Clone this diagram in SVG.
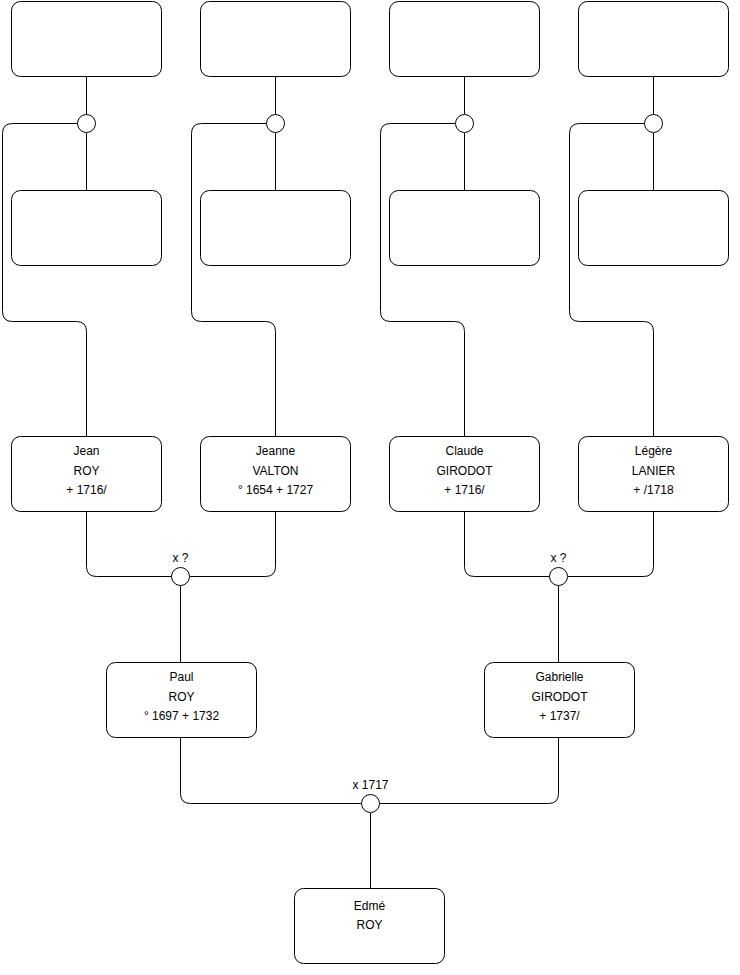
<svg xmlns="http://www.w3.org/2000/svg" width="740" height="975" viewBox="0 0 740 975">
<style>
.box{fill:#fff;stroke:#000;stroke-width:1}
.c{fill:#fff;stroke:#000;stroke-width:1}
.ln{fill:none;stroke:#000;stroke-width:1}
text{font-family:"Liberation Sans",Arial,sans-serif;font-size:12px;fill:#000;text-anchor:middle}
</style>
<rect width="740" height="975" fill="#fff"/>
<g id="connectors">
<path class="ln" d="M86.5 76V114"/>
<path class="ln" d="M86.5 133V190"/>
<path class="ln" d="M77.5 123.5H12.5Q2.5 123.5 2.5 133.5V311.5Q2.5 321.5 12.5 321.5H76.5Q86.5 321.5 86.5 331.5V436"/>
<path class="ln" d="M275.5 76V114"/>
<path class="ln" d="M275.5 133V190"/>
<path class="ln" d="M266.5 123.5H201.5Q191.5 123.5 191.5 133.5V311.5Q191.5 321.5 201.5 321.5H265.5Q275.5 321.5 275.5 331.5V436"/>
<path class="ln" d="M464.5 76V114"/>
<path class="ln" d="M464.5 133V190"/>
<path class="ln" d="M455.5 123.5H390.5Q380.5 123.5 380.5 133.5V311.5Q380.5 321.5 390.5 321.5H454.5Q464.5 321.5 464.5 331.5V436"/>
<path class="ln" d="M653.5 76V114"/>
<path class="ln" d="M653.5 133V190"/>
<path class="ln" d="M644.5 123.5H579.5Q569.5 123.5 569.5 133.5V311.5Q569.5 321.5 579.5 321.5H643.5Q653.5 321.5 653.5 331.5V436"/>
<path class="ln" d="M86.5 511V566.5Q86.5 576.5 96.5 576.5H172"/>
<path class="ln" d="M275.5 511V566.5Q275.5 576.5 265.5 576.5H190"/>
<path class="ln" d="M180.5 586V662"/>
<path class="ln" d="M464.5 511V566.5Q464.5 576.5 474.5 576.5H550"/>
<path class="ln" d="M653.5 511V566.5Q653.5 576.5 643.5 576.5H568"/>
<path class="ln" d="M558.5 586V662"/>
<path class="ln" d="M180.5 737V793.5Q180.5 803.5 190.5 803.5H361"/>
<path class="ln" d="M558.5 737V793.5Q558.5 803.5 548.5 803.5H380"/>
<path class="ln" d="M370.5 813V888"/>
</g>
<g id="u1"><rect class="box" x="11.5" y="1.5" width="150" height="75" rx="9"/></g>
<g id="u2"><rect class="box" x="200.5" y="1.5" width="150" height="75" rx="9"/></g>
<g id="u3"><rect class="box" x="389.5" y="1.5" width="150" height="75" rx="9"/></g>
<g id="u4"><rect class="box" x="578.5" y="1.5" width="150" height="75" rx="9"/></g>
<g id="u5"><rect class="box" x="11.5" y="190.5" width="150" height="75" rx="9"/></g>
<g id="u6"><rect class="box" x="200.5" y="190.5" width="150" height="75" rx="9"/></g>
<g id="u7"><rect class="box" x="389.5" y="190.5" width="150" height="75" rx="9"/></g>
<g id="u8"><rect class="box" x="578.5" y="190.5" width="150" height="75" rx="9"/></g>
<g id="m1"><circle class="c" cx="86.5" cy="123.5" r="9"/></g>
<g id="m2"><circle class="c" cx="275.5" cy="123.5" r="9"/></g>
<g id="m3"><circle class="c" cx="464.5" cy="123.5" r="9"/></g>
<g id="m4"><circle class="c" cx="653.5" cy="123.5" r="9"/></g>
<g id="jean"><rect class="box" x="11.5" y="436.5" width="150" height="75" rx="9"/>
<text x="86.5" y="455">Jean</text><text x="86.5" y="474.5">ROY</text><text x="86.5" y="494">+ 1716/</text></g>
<g id="jeanne"><rect class="box" x="200.5" y="436.5" width="150" height="75" rx="9"/>
<text x="275.5" y="455">Jeanne</text><text x="275.5" y="474.5">VALTON</text><text x="275.5" y="494">° 1654 + 1727</text></g>
<g id="claude"><rect class="box" x="389.5" y="436.5" width="150" height="75" rx="9"/>
<text x="464.5" y="455">Claude</text><text x="464.5" y="474.5">GIRODOT</text><text x="464.5" y="494">+ 1716/</text></g>
<g id="legere"><rect class="box" x="578.5" y="436.5" width="150" height="75" rx="9"/>
<text x="653.5" y="455">Légère</text><text x="653.5" y="474.5">LANIER</text><text x="653.5" y="494">+ /1718</text></g>
<g id="m5"><circle class="c" cx="180.5" cy="576.5" r="9"/><text x="180.5" y="562">x ?</text></g>
<g id="m6"><circle class="c" cx="558.5" cy="576.5" r="9"/><text x="558.5" y="562">x ?</text></g>
<g id="paul"><rect class="box" x="106.5" y="662.5" width="150" height="75" rx="9"/>
<text x="181.5" y="681">Paul</text><text x="181.5" y="700.5">ROY</text><text x="181.5" y="720">° 1697 + 1732</text></g>
<g id="gabrielle"><rect class="box" x="484.5" y="662.5" width="150" height="75" rx="9"/>
<text x="559.5" y="681">Gabrielle</text><text x="559.5" y="700.5">GIRODOT</text><text x="559.5" y="720">+ 1737/</text></g>
<g id="m7"><circle class="c" cx="370.5" cy="803.5" r="9"/><text x="370.5" y="789">x 1717</text></g>
<g id="edme"><rect class="box" x="294.5" y="888.5" width="150" height="75" rx="9"/>
<text x="369.5" y="910">Edmé</text><text x="369.5" y="929">ROY</text></g>
</svg>
